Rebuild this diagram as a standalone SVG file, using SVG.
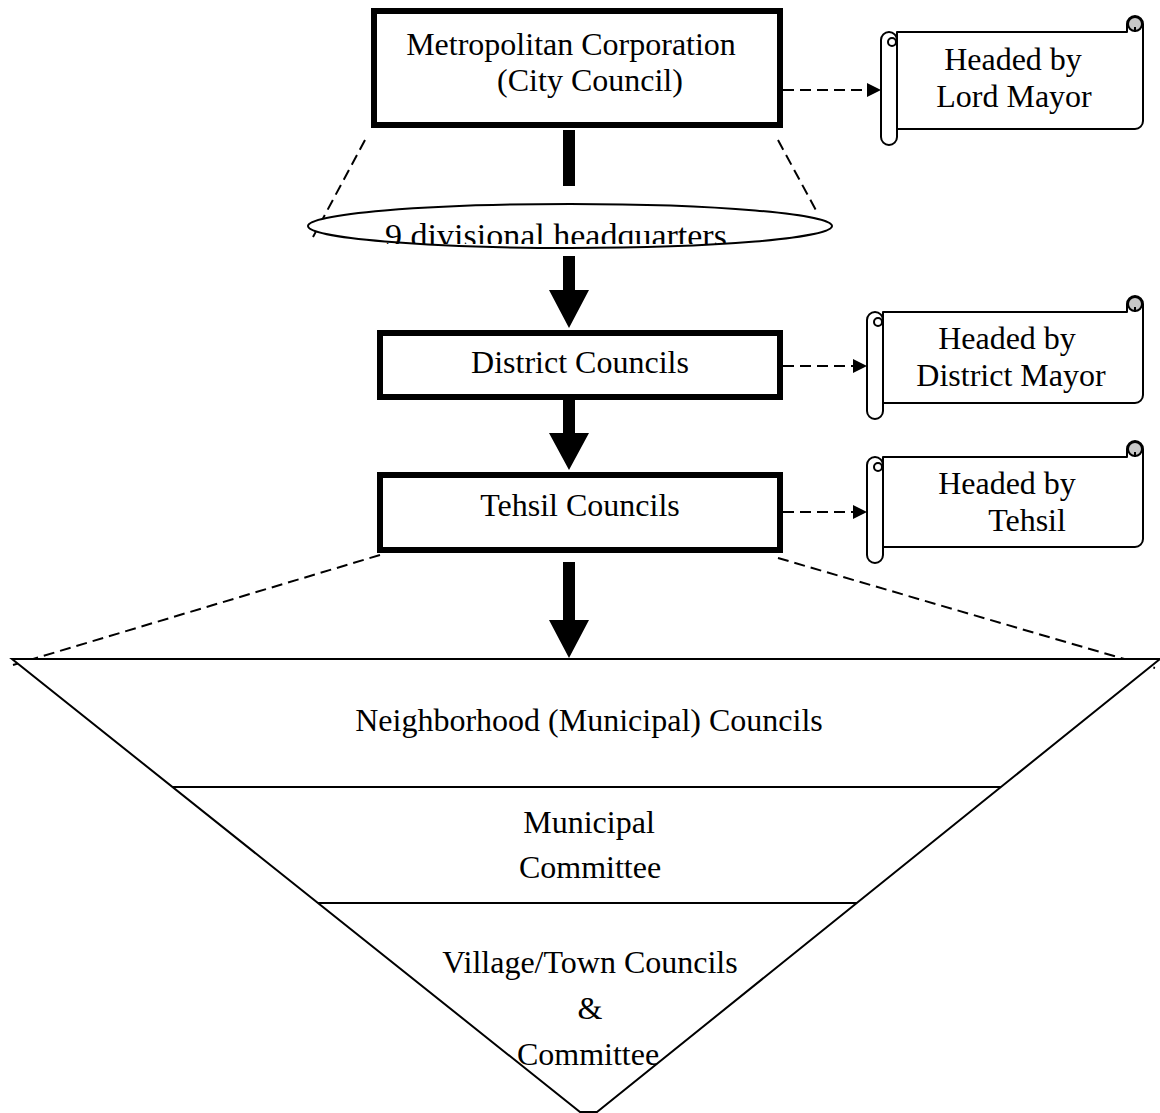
<svg xmlns="http://www.w3.org/2000/svg" width="1160" height="1113" viewBox="0 0 1160 1113">
<style>
text{font-family:"Liberation Serif","Times New Roman",serif;font-size:32px;fill:#000;text-anchor:middle}
.box{fill:#fff;stroke:#000;stroke-width:6}
.thin{fill:none;stroke:#000;stroke-width:2}
.dash{fill:none;stroke:#000;stroke-width:2;stroke-dasharray:11 6}
.scroll{fill:#fff;stroke:#000;stroke-width:2;stroke-linejoin:round}
.curl{fill:#c8c8c8;stroke:#000;stroke-width:2}
.fat{fill:#000;stroke:none}
</style>
<defs>
<marker id="ah" markerWidth="14" markerHeight="14" refX="14" refY="7" orient="auto" markerUnits="userSpaceOnUse">
<path d="M0,0 L14,7 L0,14 Z" fill="#000"/>
</marker>
<clipPath id="ellclip"><rect x="300" y="190" width="540" height="54"/></clipPath>
</defs>
<rect x="0" y="0" width="1160" height="1113" fill="#fff"/>

<g id="connectors">
<line class="dash" x1="783" y1="90" x2="881" y2="90" marker-end="url(#ah)"/>
<line class="dash" x1="783" y1="366" x2="867" y2="366" marker-end="url(#ah)"/>
<line class="dash" x1="783" y1="512" x2="867" y2="512" marker-end="url(#ah)"/>
<line class="dash" x1="365" y1="140" x2="313" y2="237"/>
<line class="dash" x1="778" y1="140" x2="818" y2="214"/>
<line class="dash" x1="380" y1="555" x2="13" y2="665"/>
<line class="dash" x1="778" y1="558" x2="1155" y2="668"/>
<rect class="fat" x="563" y="130" width="12" height="56"/>
<path class="fat" d="M563,256 H575 V290 H589 L569,328 L549,290 H563 Z"/>
<path class="fat" d="M563,400 H575 V433 H589 L569,470 L549,433 H563 Z"/>
<path class="fat" d="M563,562 H575 V620 H589 L569,658 L549,620 H563 Z"/>
</g>

<g id="metropolitan">
<rect class="box" x="374" y="11" width="406" height="114"/>
<text x="571" y="55">Metropolitan Corporation</text>
<text x="590" y="91">(City Council)</text>
</g>

<g id="divisional">
<ellipse cx="570" cy="226" rx="262" ry="22" fill="#fff" stroke="#000" stroke-width="2"/>
<text x="556" y="247" style="font-size:34px" clip-path="url(#ellclip)">9 divisional headquarters</text>
</g>

<g id="district">
<rect class="box" x="380" y="333" width="400" height="64"/>
<text x="580" y="373">District Councils</text>
</g>

<g id="tehsil">
<rect class="box" x="380" y="475" width="400" height="75"/>
<text x="580" y="516">Tehsil Councils</text>
</g>

<g id="scroll-lord-mayor">
<path class="scroll" d="M897,32 L1127,32 L1127,24 A8,8 0 0 1 1143,24 L1143,121 A8,8 0 0 1 1135,129 L897,129 Z"/>
<circle class="curl" cx="1135" cy="24" r="7"/>
<path class="thin" d="M1127,24 V32 M1135,27 V32"/>
<path class="scroll" d="M881,40 A8,8 0 0 1 897,40 L897,137 A8,8 0 0 1 881,137 Z"/>
<circle class="scroll" cx="892" cy="42" r="4"/>
<text x="1013" y="70">Headed by</text>
<text x="1014" y="107">Lord Mayor</text>
</g>

<g id="scroll-district-mayor">
<path class="scroll" d="M883,312 L1127,312 L1127,304 A8,8 0 0 1 1143,304 L1143,395 A8,8 0 0 1 1135,403 L883,403 Z"/>
<circle class="curl" cx="1135" cy="304" r="7"/>
<path class="thin" d="M1127,304 V312 M1135,307 V312"/>
<path class="scroll" d="M867,320 A8,8 0 0 1 883,320 L883,411 A8,8 0 0 1 867,411 Z"/>
<circle class="scroll" cx="878" cy="322" r="4"/>
<text x="1007" y="349">Headed by</text>
<text x="1011" y="386">District Mayor</text>
</g>

<g id="scroll-tehsil">
<path class="scroll" d="M883,457 L1127,457 L1127,449 A8,8 0 0 1 1143,449 L1143,539 A8,8 0 0 1 1135,547 L883,547 Z"/>
<circle class="curl" cx="1135" cy="449" r="7"/>
<path class="thin" d="M1127,449 V457 M1135,452 V457"/>
<path class="scroll" d="M867,465 A8,8 0 0 1 883,465 L883,555 A8,8 0 0 1 867,555 Z"/>
<circle class="scroll" cx="878" cy="467" r="4"/>
<text x="1007" y="494">Headed by</text>
<text x="1027" y="531">Tehsil</text>
</g>

<g id="pyramid">
<polygon points="12,659 1160,659 597,1112 580,1112" fill="#fff" stroke="#000" stroke-width="2" stroke-linejoin="miter"/>
<line class="thin" x1="172" y1="787" x2="1001" y2="787"/>
<line class="thin" x1="318" y1="903" x2="857" y2="903"/>
</g>

<g id="neighborhood">
<text x="589" y="731">Neighborhood (Municipal) Councils</text>
</g>
<g id="municipal-committee">
<text x="589" y="833">Municipal</text>
<text x="590" y="878">Committee</text>
</g>
<g id="village-town">
<text x="590" y="973">Village/Town Councils</text>
<text x="590" y="1019">&amp;</text>
<text x="588" y="1065">Committee</text>
</g>
</svg>
